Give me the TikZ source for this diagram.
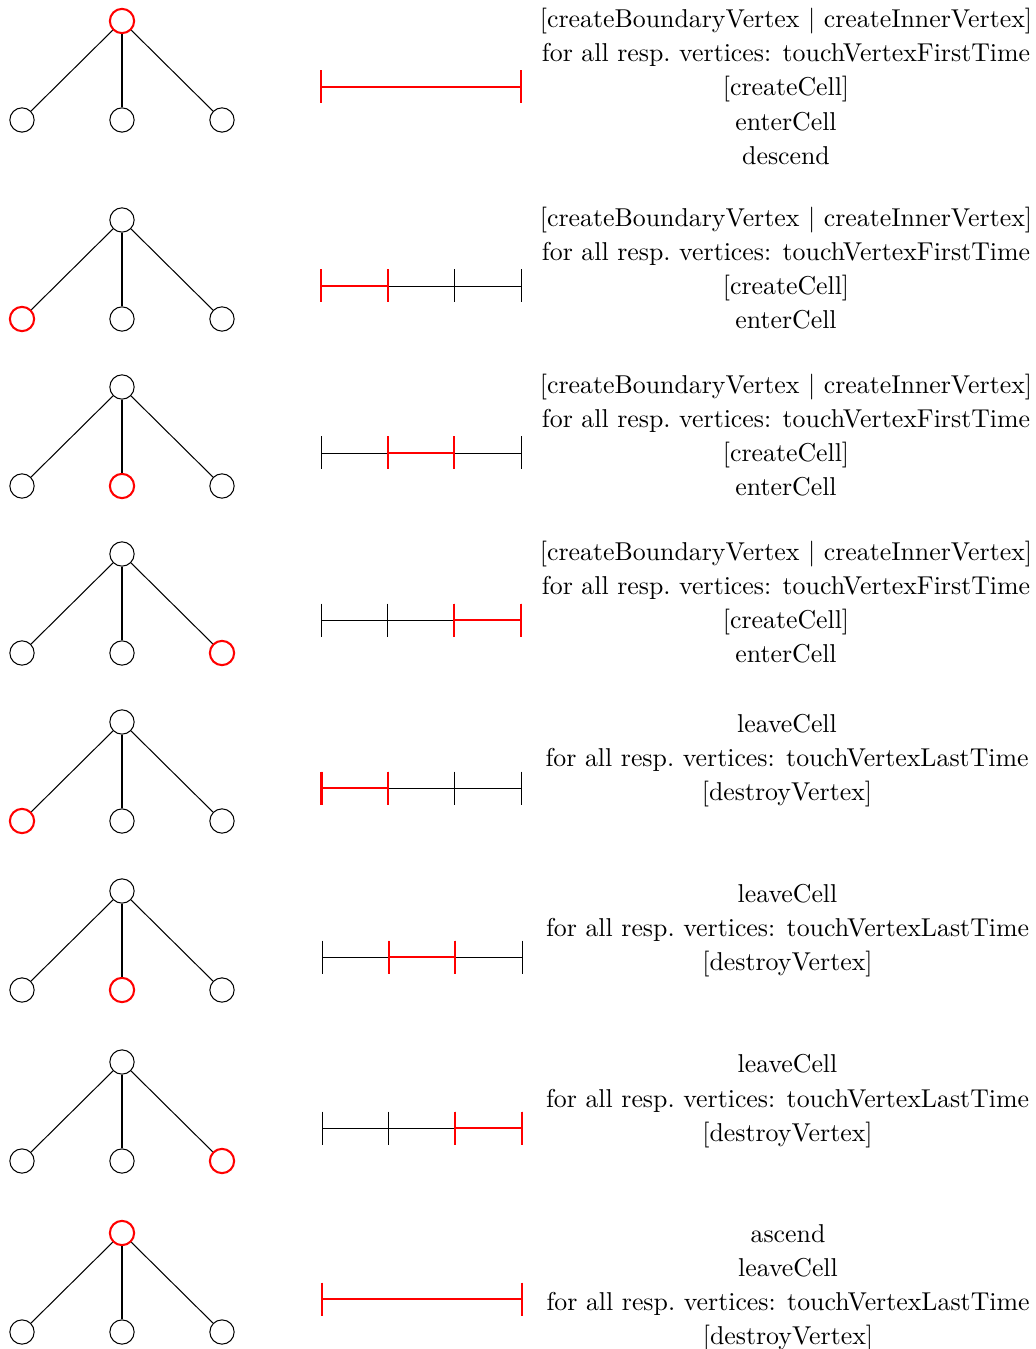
\documentclass[tikz,border=0pt]{standalone}
\begin{document}
\begin{tikzpicture}[x=0.3873pt,y=-0.3873pt,
  vertex/.style={circle,draw,line width=0.4pt,minimum size=9.4pt,inner sep=0pt},
  plain/.style={},
  hot/.style={draw=red,line width=0.8pt},
  link/.style={line width=0.4pt},
  seg/.style={line width=0.35pt},
  hotseg/.style={draw=red,line width=0.8pt},
  steps/.style={align=center,anchor=north,inner sep=0pt,font=\fontsize{10}{13.2}\selectfont}]
\useasboundingbox (0,0) rectangle (1035,1349);

% one tree and one interval per traversal stage
\foreach \i/\y/\sr/\sa/\sb/\sc/\hs/\bx in {
  1/21/hot/plain/plain/plain/0/321,
  2/220/plain/hot/plain/plain/1/321,
  3/387/plain/plain/hot/plain/2/321,
  4/554/plain/plain/plain/hot/3/321,
  5/722/plain/hot/plain/plain/1/321.5,
  6/891/plain/plain/hot/plain/2/322,
  7/1062/plain/plain/plain/hot/3/322,
  8/1233/hot/plain/plain/plain/0/322}{
  \node[vertex,\sr] (r\i) at (122,\y) {};
  \node[vertex,\sa] (a\i) at (22,{\y+99}) {};
  \node[vertex,\sb] (b\i) at (122,{\y+99}) {};
  \node[vertex,\sc] (c\i) at (222,{\y+99}) {};
  \draw[link] (r\i) -- (a\i);
  \draw[link] (r\i) -- (b\i);
  \draw[link] (r\i) -- (c\i);
  % interval subdivided into three cells
  \coordinate (s\i-0) at (\bx,{\y+66});
  \coordinate (s\i-1) at ({\bx+66.67},{\y+66});
  \coordinate (s\i-2) at ({\bx+133.33},{\y+66});
  \coordinate (s\i-3) at ({\bx+200},{\y+66});
  \ifnum\hs=0
    \draw[hotseg] (s\i-0) -- (s\i-3);
    \draw[hotseg] (s\i-0) +(0,-16.5) -- +(0,16.5);
    \draw[hotseg] (s\i-3) +(0,-16.5) -- +(0,16.5);
  \else
    \draw[seg] (s\i-0) -- (s\i-3);
    \foreach \k in {0,...,3}{
      \draw[seg] (s\i-\k) +(0,-16.5) -- +(0,16.5);
    }
    \pgfmathtruncatemacro\prv{\hs-1}
    \draw[hotseg] (s\i-\prv) -- (s\i-\hs);
    \draw[hotseg] (s\i-\prv) +(0,-16.5) -- +(0,16.5);
    \draw[hotseg] (s\i-\hs) +(0,-16.5) -- +(0,16.5);
  \fi
}

% event sequences of each stage
\node[steps] (t1) at (786,7.9) {[createBoundaryVertex $|$ createInnerVertex]\\
  for all resp.\ vertices: touchVertexFirstTime\\ {[}createCell{]}\\ enterCell\\ descend};
\node[steps] (t2) at (786,206.5) {[createBoundaryVertex $|$ createInnerVertex]\\
  for all resp.\ vertices: touchVertexFirstTime\\ {[}createCell{]}\\ enterCell};
\node[steps] (t3) at (786,373.3) {[createBoundaryVertex $|$ createInnerVertex]\\
  for all resp.\ vertices: touchVertexFirstTime\\ {[}createCell{]}\\ enterCell};
\node[steps] (t4) at (786,540.8) {[createBoundaryVertex $|$ createInnerVertex]\\
  for all resp.\ vertices: touchVertexFirstTime\\ {[}createCell{]}\\ enterCell};
\node[steps] (t5) at (787,712.6) {\vphantom{[}leaveCell\\
  for all resp.\ vertices: touchVertexLastTime\\ {[}destroyVertex{]}};
\node[steps] (t6) at (787.5,882.6) {\vphantom{[}leaveCell\\
  for all resp.\ vertices: touchVertexLastTime\\ {[}destroyVertex{]}};
\node[steps] (t7) at (787.5,1053.1) {\vphantom{[}leaveCell\\
  for all resp.\ vertices: touchVertexLastTime\\ {[}destroyVertex{]}};
\node[steps] (t8) at (788,1222.3) {\vphantom{[}ascend\\ leaveCell\\
  for all resp.\ vertices: touchVertexLastTime\\ {[}destroyVertex{]}};
\end{tikzpicture}
\end{document}
